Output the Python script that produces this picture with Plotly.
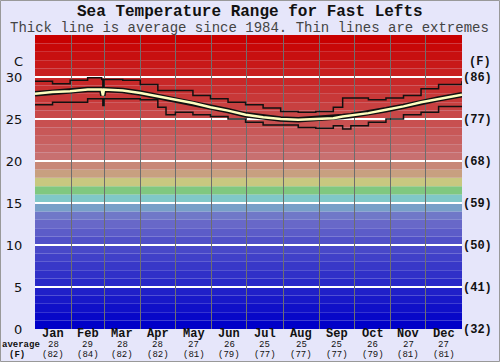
import plotly.graph_objects as go

# ---- data ----
days = [0, 15, 30, 45, 57, 58, 59, 75, 90, 105, 112, 120, 135, 150, 165, 180,
        195, 210, 225, 240, 255, 263, 270, 285, 300, 315, 330, 345, 365]
avg_line_c = [28.0, 28.2, 28.3, 28.5, 28.5, 27.8, 28.5, 28.4, 28.1, 27.7, 27.5, 27.3,
              26.9, 26.4, 26.0, 25.5, 25.2, 25.0, 24.9, 25.0, 25.1, 25.3, 25.4, 25.7,
              26.1, 26.5, 27.0, 27.4, 27.9]
max_line_c = [29.5, 29.2, 29.6, 29.9, 29.7, 28.9, 29.7, 29.6, 29.1, 28.4, 28.4, 28.4,
              27.8, 27.4, 27.0, 26.7, 26.3, 25.9, 25.8, 25.9, 26.4, 27.5, 27.5, 27.3,
              27.5, 27.8, 28.6, 29.1, 29.5]
min_line_c = [26.7, 27.0, 27.0, 27.4, 27.4, 26.6, 27.4, 27.4, 27.3, 26.4, 25.5, 25.8,
              25.5, 25.3, 25.0, 24.6, 24.3, 24.3, 24.0, 23.9, 24.2, 23.8, 24.2, 24.6,
              25.0, 25.5, 25.8, 26.5, 26.4]

months = ["Jan", "Feb", "Mar", "Apr", "May", "Jun", "Jul", "Aug", "Sep", "Oct", "Nov", "Dec"]
month_len = [31, 28, 31, 30, 31, 30, 31, 31, 30, 31, 30, 31]
month_avg_c = [28, 29, 28, 28, 27, 26, 25, 25, 25, 26, 27, 27]
month_avg_f = [82, 84, 82, 82, 81, 79, 77, 77, 77, 79, 81, 81]

c_ticks = [0, 5, 10, 15, 20, 25, 30]
f_labels = ["(32)", "(41)", "(50)", "(59)", "(68)", "(77)", "(86)"]

# ---- styles ----
band_colors = ['#0000c8', '#0808c8', '#1010c8', '#1818c8', '#2020c8', '#2828c8', '#3030c8',
               '#3838c8', '#4040c8', '#4848c8', '#5050c8', '#5c5cc8', '#6868c8', '#7078c8',
               '#78a0c8', '#80c8c8', '#80c880', '#c8c880', '#c8a080', '#c88878', '#c87070',
               '#c86868', '#c86060', '#c85858', '#c85050', '#c84848', '#c84040', '#c83838',
               '#c83030', '#c82828', '#c82020', '#c81818', '#c81010', '#c80808', '#c80000']
BG = '#e6e6fa'
MONO = "Liberation Mono, Courier New, monospace"

starts = []
s = 0
for L in month_len:
    starts.append(s)
    s += L
centers = [st + L / 2 for st, L in zip(starts, month_len)]

fig = go.Figure()

# colour bands
for i, col in enumerate(band_colors):
    fig.add_shape(type='rect', xref='paper', x0=0, x1=1, yref='y', y0=i, y1=i + 1,
                  fillcolor=col, line_width=0, layer='below')
# white horizontal lines
for v in c_ticks[1:]:
    fig.add_shape(type='line', xref='paper', x0=0, x1=1, yref='y', y0=v, y1=v,
                  line=dict(color='white', width=2), layer='between')

fig.add_trace(go.Scatter(x=days, y=max_line_c, mode='lines', line=dict(color='#111', width=1.5, shape='hv'),
                         hoverinfo='skip', showlegend=False))
fig.add_trace(go.Scatter(x=days, y=min_line_c, mode='lines', line=dict(color='#111', width=1.5, shape='hv'),
                         hoverinfo='skip', showlegend=False))
fig.add_trace(go.Scatter(x=days, y=avg_line_c, mode='lines', line=dict(color='#111', width=5.5),
                         hoverinfo='skip', showlegend=False))
fig.add_trace(go.Scatter(x=days, y=avg_line_c, mode='lines', line=dict(color='#ffffc0', width=2.5),
                         hoverinfo='skip', showlegend=False))
# invisible trace for right axis
fig.add_trace(go.Scatter(x=[0], y=[0], yaxis='y2', mode='markers', marker=dict(opacity=0),
                         hoverinfo='skip', showlegend=False))

ann = []
ann.append(dict(text="<b>Sea Temperature Range for Fast Lefts</b>", xref='paper', yref='paper',
                x=(250 - 35) / 427, y=1, yshift=35 - 12, showarrow=False, xanchor='center',
                font=dict(family=MONO, size=16, color='#111'), yanchor='middle'))
ann.append(dict(text="Thick line is average since 1984. Thin lines are extremes", xref='paper', yref='paper',
                x=(249 - 35) / 427, y=1, yshift=35 - 28, showarrow=False, xanchor='center',
                font=dict(family=MONO, size=14, color='#444'), yanchor='middle'))
ann.append(dict(text="C", xref='paper', yref='y', x=0, xshift=-17, y=31.9, showarrow=False,
                xanchor='center', font=dict(family="DejaVu Sans", size=13, color='#111')))
ann.append(dict(text="<b>(F)</b>", xref='paper', yref='y', x=1, xshift=18, y=31.8, showarrow=False,
                xanchor='center', font=dict(family=MONO, size=12, color='#111')))
for c, m, ac, af in zip(centers, months, month_avg_c, month_avg_f):
    ann.append(dict(text="<b>" + m + "</b>", x=c, xref='x', yref='paper', y=0, yshift=-5, xanchor='center',
                    showarrow=False, borderpad=0, font=dict(family=MONO, size=12, color='#111'), yanchor='middle'))
    ann.append(dict(text=str(ac), x=c, xref='x', yref='paper', y=0, yshift=-16, xanchor='center',
                    showarrow=False, borderpad=0, font=dict(family=MONO, size=9, color='#111'), yanchor='middle'))
    ann.append(dict(text="(" + str(af) + ")", x=c, xref='x', yref='paper', y=0, yshift=-25.5, xanchor='center',
                    showarrow=False, borderpad=0, font=dict(family=MONO, size=9, color='#111'), yanchor='middle'))
ann.append(dict(text="<b>average</b>", xref='paper', yref='paper', x=0, xshift=-14, y=0, yshift=-16,
                xanchor='center', showarrow=False, borderpad=0,
                font=dict(family=MONO, size=9, color='#111'), yanchor='middle'))
ann.append(dict(text="<b>(F)</b>", xref='paper', yref='paper', x=0, xshift=-18, y=0, yshift=-25.5,
                xanchor='center', showarrow=False, borderpad=0,
                font=dict(family=MONO, size=9, color='#111'), yanchor='middle'))

# outer frame
W, H, L_, R_, T_, B_ = 500, 362, 35, 38, 35, 33
pw, ph = W - L_ - R_, H - T_ - B_
fig.add_shape(type='rect', xref='paper', yref='paper',
              x0=(0.5 - L_) / pw, x1=(W - 0.5 - L_) / pw,
              y0=(0.5 - B_) / ph, y1=(H - 0.5 - B_) / ph,
              line=dict(color='#999', width=1), fillcolor='rgba(0,0,0,0)', layer='above')

fig.update_layout(
    width=W, height=H, margin=dict(l=L_, r=R_, t=T_, b=B_, autoexpand=False),
    paper_bgcolor=BG, plot_bgcolor=BG,
    annotations=ann,
    xaxis=dict(range=[0, 365], tickvals=starts[1:], showticklabels=False, ticks='',
               showgrid=True, gridcolor='#6e6e6e', gridwidth=1, zeroline=False, showline=False,
               automargin=False),
    yaxis=dict(range=[0, 35], tickvals=c_ticks, ticktext=[str(v) for v in c_ticks],
               showgrid=False, zeroline=False, ticks='outside', ticklen=9, tickcolor='rgba(0,0,0,0)',
               tickfont=dict(family="DejaVu Sans", size=13, color='#111'), automargin=False),
    yaxis2=dict(range=[0, 35], overlaying='y', side='right', tickvals=c_ticks,
                ticktext=["<b>" + t + "</b>" for t in f_labels],
                showgrid=False, zeroline=False, ticks='', tickfont=dict(family=MONO, size=12, color='#111'),
                showline=False, automargin=False),
)

fig.write_html("out.html", config={'displayModeBar': False},
               post_script="document.body.style.margin='0';document.body.style.background='" + BG + "';")
